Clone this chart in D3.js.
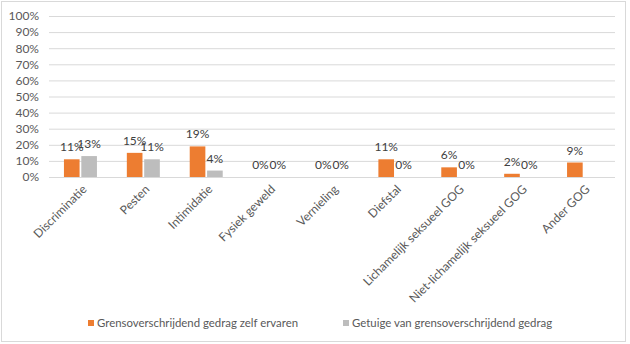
<!DOCTYPE html>
<html>
<head>
<meta charset="utf-8">
<script src="https://cdn.jsdelivr.net/npm/d3@7"></script>
<style>
  html, body { margin: 0; padding: 0; background: #fff; }
  svg { display: block; font-family: Lato, "Open Sans", sans-serif; }
</style>
</head>
<body>
<svg id="chart" width="630" height="344"></svg>
<script>
// Categories of behaviour
const categories = [
  "Discriminatie", "Pesten", "Intimidatie", "Fysiek geweld", "Vernieling",
  "Diefstal", "Lichamelijk seksueel GOG", "Niet-lichamelijk seksueel GOG", "Ander GOG"
];
// Share experienced personally (%)
const zelfErvaren = [11, 15, 19, 0, 0, 11, 6, 2, 9];
// Share witnessed (%); no value for "Ander GOG"
const getuige = [13, 11, 4, 0, 0, 0, 0, 0, null];
const seriesNames = ["Grensoverschrijdend gedrag zelf ervaren", "Getuige van grensoverschrijdend gedrag"];
const seriesColors = ["#ED7D31", "#BDBDBD"];
const yTicks = [0, 10, 20, 30, 40, 50, 60, 70, 80, 90, 100];

const svg = d3.select("#chart");
const W = 630, H = 344;
const plot = { left: 49, right: 615, top: 16, bottom: 177 };

// Outer chart frame
svg.append("rect")
  .attr("x", 1.5).attr("y", 1.5).attr("width", W - 6).attr("height", H - 4)
  .attr("fill", "#fff").attr("stroke", "#d9d9d9").attr("stroke-width", 1);

const x = d3.scaleBand().domain(categories).range([plot.left, plot.right]);
const inner = d3.scaleBand().domain([0, 1]).range([-16.5, 16.5]).paddingInner(0.1);
const y = d3.scaleLinear().domain([0, 100]).range([plot.bottom, plot.top]);

// Gridlines and y labels
const yAxis = d3.axisLeft(y).tickValues(yTicks).tickFormat(d => d + "%")
  .tickSize(-(plot.right - plot.left)).tickPadding(10);
const gy = svg.append("g").attr("transform", `translate(${plot.left},0)`).call(yAxis);
gy.select(".domain").remove();
gy.selectAll(".tick line").attr("stroke", "#d9d9d9").attr("stroke-width", 1);
gy.selectAll(".tick text").attr("fill", "#595959").style("font-size", "12px")
  .style("font-family", "Lato, sans-serif");

// x baseline
svg.append("line")
  .attr("x1", plot.left).attr("x2", plot.right)
  .attr("y1", y(0) + 0.5).attr("y2", y(0) + 0.5)
  .attr("stroke", "#d9d9d9");

// Bars with value labels
const series = [zelfErvaren, getuige];
series.forEach((vals, si) => {
  const g = svg.append("g");
  const data = categories.map((c, i) => ({ c, v: vals[i] })).filter(d => d.v !== null);
  g.selectAll("rect").data(data).join("rect")
    .attr("x", d => x(d.c) + x.bandwidth() / 2 + inner(si))
    .attr("width", inner.bandwidth())
    .attr("y", d => y(d.v))
    .attr("height", d => y(0) - y(d.v))
    .attr("fill", seriesColors[si]);
  g.selectAll("text").data(data).join("text")
    .attr("x", d => x(d.c) + x.bandwidth() / 2 + inner(si) + inner.bandwidth() / 2)
    .attr("y", d => y(d.v) - 8)
    .attr("text-anchor", "middle")
    .attr("fill", "#404040")
    .style("font-size", "12px")
    .text(d => d.v + "%");
});

// Category labels, rotated
const gx = svg.append("g");
gx.selectAll("text").data(categories).join("text")
  .attr("transform", d => `translate(${x(d) + x.bandwidth() / 2 + 4},${plot.bottom + 10}) rotate(-45)`)
  .attr("text-anchor", "end")
  .attr("dy", "0.35em")
  .attr("fill", "#595959")
  .style("font-size", "12px")
  .text(d => d);

// Legend
const legendX = [88, 343];
seriesNames.forEach((name, i) => {
  svg.append("rect").attr("x", legendX[i]).attr("y", 320).attr("width", 6).attr("height", 6)
    .attr("fill", seriesColors[i]);
  svg.append("text").attr("x", legendX[i] + 9).attr("y", 323).attr("dy", "0.35em")
    .attr("fill", "#595959").style("font-size", "11.4px").text(name);
});
</script>
</body>
</html>
